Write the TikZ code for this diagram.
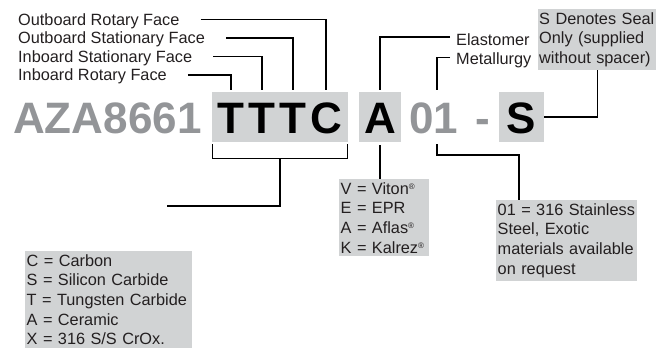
\documentclass[tikz,border=0pt]{standalone}
\usepackage{fontspec}
\setmainfont{Liberation Sans}
\usepackage{tikz}

\definecolor{boxgray}{HTML}{D1D3D4}
\definecolor{codegray}{HTML}{939598}
\definecolor{inkgray}{HTML}{231F20}
\newcommand\labelfont{\fontsize{16.3}{19.7}\selectfont}
\newcommand\partfont{\fontsize{44}{48}\selectfont\bfseries}
\newcommand\regmark{\raisebox{5pt}{\fontsize{8}{8}\selectfont\textregistered}}

\begin{document}
\begin{tikzpicture}[x=1pt,y=-1pt,
  lbl/.style={font=\labelfont, text=inkgray, inner sep=0pt, anchor=base west},
  keybox/.style={fill=boxgray, font=\labelfont, text=inkgray, align=left, anchor=north west, inner xsep=1.5pt, inner ysep=3pt},
  part/.style={font=\partfont, text height=32pt, text depth=0pt, inner sep=0pt},
  partbox/.style={part, fill=boxgray, text=black, minimum height=50pt},
  conn/.style={draw=black, line width=1.3pt}]
\useasboundingbox (0,0) rectangle (669,349);

\node (lor) [lbl] at (18,25) {Outboard Rotary Face};
\node (los) [lbl] at (18,43.5) {Outboard Stationary Face};
\node (lis) [lbl] at (18,62) {Inboard Stationary Face};
\node (lir) [lbl] at (18,80.5) {Inboard Rotary Face};
\node (elast) [lbl] at (456,45.5) {Elastomer};
\node (metal) [lbl] at (456,64.5) {Metallurgy};

\node (prefix) [part, text=codegray, anchor=west] at (13,117) {AZA8661};
\node (faces) [partbox, minimum width=136pt] at (280,117) {\addfontfeatures{LetterSpace=9}TTTC};
\node (abox) [partbox, minimum width=42pt] at (380,117) {A};
\node (num) [part, text=codegray] at (433.5,117) {01};
\node (dash) [part, text=codegray] at (483,117) {-};
\node (sbox) [partbox, minimum width=45pt] at (521.5,117) {S};

\node (sdenote) [keybox, text width=116pt, inner xsep=1pt] at (538,9) {S Denotes Seal\\Only (supplied\\without spacer)};
\node (elastkey) [keybox, text width=87pt] at (339,179) {V = Viton\regmark\\E = EPR\\A = Aflas\regmark\\K = Kalrez\regmark};
\node (metalkey) [keybox, text width=138pt] at (496,200) {01 = 316 Stainless\\Steel, Exotic\\materials available\\on request};
\node (facekey) [keybox, text width=164pt] at (25,251) {C = Carbon\\S = Silicon Carbide\\T = Tungsten Carbide\\A = Ceramic\\X = 316 S/S CrOx.};

\coordinate (tk1) at (231,90);
\coordinate (tk2) at (262,90);
\coordinate (tk3) at (293,90);
\coordinate (tk4) at (326,90);
\coordinate (mtop) at (437,90);
\coordinate (mbot) at (437,144);
\coordinate (facesend) at (167,206);

\draw[conn] ([xshift=21pt,yshift=5.5pt]lor.base east) -| (tk4);
\draw[conn] ([xshift=21pt,yshift=5.5pt]los.base east) -| (tk3);
\draw[conn] ([xshift=21pt,yshift=5.5pt]lis.base east) -| (tk2);
\draw[conn] ([xshift=21pt,yshift=5.5pt]lir.base east) -| (tk1);
\draw[conn] ([xshift=-6pt,yshift=8.5pt]elast.base west) -| ([yshift=2pt]abox.north);
\draw[conn] ([xshift=-6pt,yshift=7pt]metal.base west) -| (mtop);
\draw[conn] (sbox.east) -| (sdenote.south);
\draw[conn] ([xshift=1pt,yshift=-2pt]faces.south west) |- ([yshift=-16pt]faces.south) -| ([xshift=-1pt,yshift=-2pt]faces.south east);
\draw[conn] ([yshift=-16pt]faces.south) |- (facesend);
\draw[conn] ([yshift=-3pt]abox.south) -- (abox.south |- elastkey.north);
\draw[conn] (mbot) -- ++(0,11) -| ([xshift=23pt]metalkey.north west);
\end{tikzpicture}
\end{document}
